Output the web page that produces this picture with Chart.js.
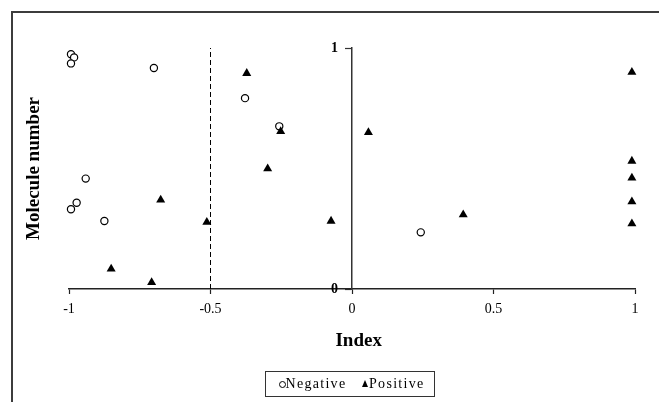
<!DOCTYPE html>
<html>
<head>
<meta charset="utf-8">
<script src="https://cdn.jsdelivr.net/npm/chart.js@4.4.1/dist/chart.umd.min.js"></script>
<style>
  html, body { margin: 0; padding: 0; background: #fff; }
  #wrap { position: relative; width: 659px; height: 402px; overflow: hidden; }
  #legend { position: absolute; left: 265px; top: 371px; width: 170px; height: 26px; box-sizing: border-box;
            border: 1.5px solid #333; font-family: "Liberation Serif", serif; font-size: 14px; color: #000; letter-spacing: 1.3px; }
  #legend .item { position: absolute; top: 0; height: 23px; line-height: 23px; white-space: nowrap; }
  #legend .circ { position: absolute; top: 8.5px; width: 5px; height: 5px; border: 1px solid #000; border-radius: 50%; }
  #legend .tri { position: absolute; top: 8px; width: 0; height: 0; border-left: 3.5px solid transparent;
                 border-right: 3.5px solid transparent; border-bottom: 7px solid #000; }
</style>
</head>
<body>
<div id="wrap">
  <canvas id="c" width="659" height="402"></canvas>
  <div id="legend"></div>
</div>
<script>
// ---- data ----
const seriesNames = ["Negative", "Positive"];
const negX = [-0.993, -0.982, -0.993, -0.700, -0.378, -0.257, -0.941, -0.993, -0.973, -0.875, 0.243];
const negY = [ 0.974,  0.961,  0.936,  0.917,  0.792,  0.675,  0.458,  0.331,  0.358,  0.282, 0.235];
const posX = [-0.372, -0.252, -0.298, -0.676, -0.513, -0.851, -0.708, -0.074, 0.058, 0.393, 0.989, 0.989, 0.989, 0.989, 0.989];
const posY = [ 0.895,  0.654,  0.499,  0.370,  0.277,  0.083,  0.027,  0.282, 0.650, 0.308, 0.900, 0.531, 0.461, 0.362, 0.271];
const thresholdX = [-0.5, -0.5];
const thresholdY = [0, 1];
const xTicks = [-1, -0.5, 0, 0.5, 1];
const xTickLabels = ["-1", "-0.5", "0", "0.5", "1"];
const yTicks = [0, 1];
const yTickLabels = ["0", "1"];
const xTitle = "Index";
const yTitle = "Molecule number";

const toPts = (xs, ys) => xs.map((x, i) => ({x: x, y: ys[i]}));

const bgAndFrame = {
  id: 'bgAndFrame',
  beforeDraw(chart) {
    const ctx = chart.ctx;
    ctx.save();
    ctx.fillStyle = '#fff';
    ctx.fillRect(0, 0, chart.width, chart.height);
    ctx.strokeStyle = '#3c3c3c';
    ctx.lineWidth = 2;
    ctx.strokeRect(12, 12, 800, 600);
    ctx.restore();
  }
};

const serif = "'Liberation Serif', 'Times New Roman', serif";

new Chart(document.getElementById('c'), {
  type: 'scatter',
  data: {
    datasets: [
      {
        label: seriesNames[0],
        data: toPts(negX, negY),
        pointStyle: 'circle',
        pointRadius: 3.6,
        pointBorderWidth: 1.2,
        pointBackgroundColor: '#fff',
        pointBorderColor: '#000',
        clip: false,
        order: 2
      },
      {
        label: seriesNames[1],
        data: toPts(posX, posY),
        pointStyle: 'triangle',
        pointRadius: 5.2,
        pointBorderWidth: 0,
        pointBackgroundColor: '#000',
        pointBorderColor: '#000',
        clip: false,
        order: 1
      },
      {
        label: 'threshold',
        data: toPts(thresholdX, thresholdY),
        showLine: true,
        borderColor: '#000',
        borderWidth: 1,
        borderDash: [5, 3],
        pointRadius: 0,
        clip: false,
        order: 3
      }
    ]
  },
  options: {
    responsive: false,
    animation: false,
    events: [],
    layout: { padding: { top: 48, left: 10, right: 24, bottom: 45.6 } },
    plugins: { legend: { display: false }, tooltip: { enabled: false } },
    scales: {
      x: {
        type: 'linear',
        position: 'bottom',
        min: -1, max: 1,
        afterBuildTicks(scale) { scale.ticks = xTicks.map(v => ({value: v})); },
        ticks: { color: '#000', padding: 7, font: { family: serif, size: 14 },
                 callback: (v) => { const i = xTicks.indexOf(v); return i >= 0 ? xTickLabels[i] : ''; } },
        grid: { drawOnChartArea: false, drawTicks: true, tickLength: 5, tickColor: '#222', tickWidth: 1.2 },
        border: { display: true, color: '#222', width: 1.5 },
        title: { display: true, text: '\u2002\u2009' + xTitle, color: '#000', padding: { top: 4.8, bottom: 4 },
                 font: { family: serif, size: 19, weight: 'bold' } }
      },
      y: {
        type: 'linear',
        position: { x: 0 },
        min: 0, max: 1,
        afterBuildTicks(scale) { scale.ticks = yTicks.map(v => ({value: v})); },
        ticks: { color: '#000', padding: 9, font: { family: serif, size: 14, weight: 'bold' },
                 callback: (v) => { const i = yTicks.indexOf(v); return i >= 0 ? yTickLabels[i] + '\u2003' : ''; } },
        grid: { drawOnChartArea: false, drawTicks: true, tickLength: 6, tickColor: '#333', tickWidth: 1.2 },
        border: { display: true, color: '#333', width: 1.5 }
      },
      yTitle: {
        type: 'linear',
        position: 'left',
        ticks: { display: false },
        grid: { display: false, drawTicks: false },
        border: { display: false },
        title: { display: true, text: yTitle, color: '#000', padding: { top: 12.6, bottom: 23.6 },
                 font: { family: serif, size: 19, weight: 'bold' } }
      }
    }
  },
  plugins: [bgAndFrame]
});

// HTML legend built from the series names
const lg = document.getElementById('legend');
const layout = [
  { sym: 'circ', symLeft: 12.5, textLeft: 19.5 },
  { sym: 'tri',  symLeft: 96,   textLeft: 103 }
];
seriesNames.forEach((name, i) => {
  const s = document.createElement('span');
  s.className = layout[i].sym;
  s.style.left = layout[i].symLeft + 'px';
  lg.appendChild(s);
  const t = document.createElement('span');
  t.className = 'item';
  t.style.left = layout[i].textLeft + 'px';
  t.textContent = name;
  lg.appendChild(t);
});
</script>
</body>
</html>
